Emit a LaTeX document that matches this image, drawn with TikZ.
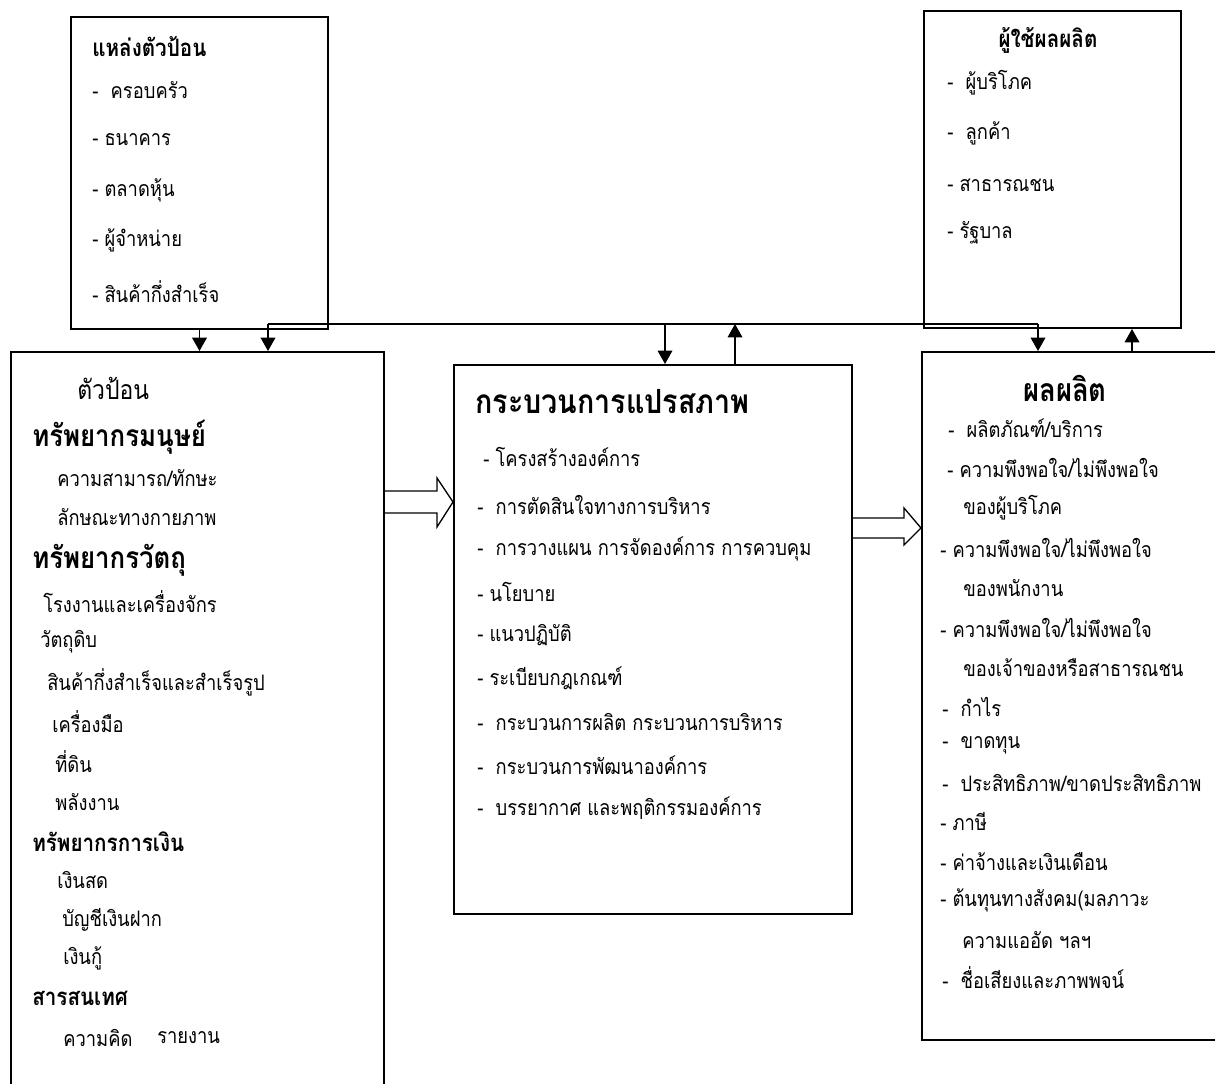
\documentclass[tikz,border=0pt]{standalone}
\usepackage{fontspec}
\newfontfamily\thaifont[Script=Thai, FakeStretch=0.86]{Loma}
\usetikzlibrary{arrows.meta, positioning, fit}

\begin{document}
\begin{tikzpicture}[
        x=0.75pt, y=-0.75pt,
        >={Triangle[length=10pt, width=11pt]},
        tbox/.style={rectangle, draw=black, line width=1.5pt, inner sep=0pt},
        titem/.style={anchor=west, inner sep=0pt, font=\thaifont\fontsize{16}{19}\selectfont},
        thead/.style={anchor=west, inner sep=0pt, font=\thaifont\bfseries\fontsize{22.5}{26}\selectfont},
        tsub/.style={anchor=west, inner sep=0pt, font=\thaifont\bfseries\fontsize{18}{21}\selectfont},
        ttitle/.style={anchor=west, inner sep=0pt, font=\thaifont\bfseries\fontsize{25}{28}\selectfont},
        arr/.style={->, draw=black, line width=1pt},
        blk/.style={draw=black, line width=1pt, line join=miter}
    ]

    \useasboundingbox (0,0) rectangle (1215,1084);
    \clip (0,0) rectangle (1215,1084);

    % Boxes
    \node[tbox, fit={(71,17) (328,329)}]    (src)  {};
    \node[tbox, fit={(924,11) (1181,328)}]  (user) {};
    \node[tbox, fit={(11,352) (384,1100)}]  (inp)  {};
    \node[tbox, fit={(454,365) (852,914)}]  (proc) {};
    \node[tbox, fit={(922,352) (1230,1040)}] (outp) {};

    % Sources of input
    \node[tsub]  (srcT) at (92,47)  {แหล่งตัวป้อน};
    \node[titem] (src1) at (92,90)  {-\ \ ครอบครัว};
    \node[titem] (src2) at (92,140) {- ธนาคาร};
    \node[titem] (src3) at (92,190) {- ตลาดหุ้น};
    \node[titem] (src4) at (92,240) {- ผู้จำหน่าย};
    \node[titem] (src5) at (92,292) {- สินค้ากึ่งสำเร็จ};

    % Users of output
    \node[tsub, anchor=center] (userT) at (1048,40) {ผู้ใช้ผลผลิต};
    \node[titem] (user1) at (947,83)  {-\ \ ผู้บริโภค};
    \node[titem] (user2) at (947,133) {-\ \ ลูกค้า};
    \node[titem] (user3) at (947,185) {- สาธารณชน};
    \node[titem] (user4) at (947,233) {- รัฐบาล};

    % Inputs
    \node[titem, font=\thaifont\fontsize{20}{23}\selectfont] (inpT) at (77,388) {ตัวป้อน};
    \node[thead] (inpA)  at (32,437)  {ทรัพยากรมนุษย์};
    \node[titem] (inpA1) at (57,478)  {ความสามารถ/ทักษะ};
    \node[titem] (inpA2) at (57,517)  {ลักษณะทางกายภาพ};
    \node[thead] (inpB)  at (32,560)  {ทรัพยากรวัตถุ};
    \node[titem] (inpB1) at (43,602)  {โรงงานและเครื่องจักร};
    \node[titem] (inpB2) at (40,642)  {วัตถุดิบ};
    \node[titem] (inpB3) at (47,682)  {สินค้ากึ่งสำเร็จและสำเร็จรูป};
    \node[titem] (inpB4) at (52,722)  {เครื่องมือ};
    \node[titem] (inpB5) at (55,762)  {ที่ดิน};
    \node[titem] (inpB6) at (55,802)  {พลังงาน};
    \node[tsub]  (inpC)  at (32,842)  {ทรัพยากรการเงิน};
    \node[titem] (inpC1) at (57,880)  {เงินสด};
    \node[titem] (inpC2) at (62,920)  {บัญชีเงินฝาก};
    \node[titem] (inpC3) at (63,958)  {เงินกู้};
    \node[tsub]  (inpD)  at (32,998)  {สารสนเทศ};
    \node[titem] (inpD1) at (63,1038) {ความคิด};
    \node[titem] (inpD2) at (157,1038) {รายงาน};

    % Transformation process
    \node[ttitle] (procT) at (475,402) {กระบวนการแปรสภาพ};
    \node[titem] (proc1) at (483,457) {- โครงสร้างองค์การ};
    \node[titem] (proc2) at (477,505) {-\ \ การตัดสินใจทางการบริหาร};
    \node[titem] (proc3) at (477,549) {-\ \ การวางแผน การจัดองค์การ การควบคุม};
    \node[titem] (proc4) at (477,592) {- นโยบาย};
    \node[titem] (proc5) at (477,635) {- แนวปฏิบัติ};
    \node[titem] (proc6) at (477,678) {- ระเบียบกฎเกณฑ์};
    \node[titem] (proc7) at (477,722) {-\ \ กระบวนการผลิต กระบวนการบริหาร};
    \node[titem] (proc8) at (477,765) {-\ \ กระบวนการพัฒนาองค์การ};
    \node[titem] (proc9) at (477,808) {-\ \ บรรยากาศ และพฤติกรรมองค์การ};

    % Outputs
    \node[thead, anchor=center, font=\thaifont\bfseries\fontsize{24}{27}\selectfont] (outpT) at (1065,388) {ผลผลิต};
    \node[titem] (outp1)  at (948,428) {-\ \ ผลิตภัณฑ์/บริการ};
    \node[titem] (outp2)  at (947,468) {- ความพึงพอใจ/ไม่พึงพอใจ};
    \node[titem] (outp2b) at (963,508) {ของผู้บริโภค};
    \node[titem] (outp3)  at (940,548) {- ความพึงพอใจ/ไม่พึงพอใจ};
    \node[titem] (outp3b) at (963,588) {ของพนักงาน};
    \node[titem] (outp4)  at (940,628) {- ความพึงพอใจ/ไม่พึงพอใจ};
    \node[titem] (outp4b) at (963,668) {ของเจ้าของหรือสาธารณชน};
    \node[titem] (outp5)  at (942,707) {-\ \ กำไร};
    \node[titem] (outp6)  at (942,745) {-\ \ ขาดทุน};
    \node[titem] (outp7)  at (942,783) {-\ \ ประสิทธิภาพ/ขาดประสิทธิภาพ};
    \node[titem] (outp8)  at (940,822) {- ภาษี};
    \node[titem] (outp9)  at (940,862) {- ค่าจ้างและเงินเดือน};
    \node[titem] (outp10) at (940,900) {- ต้นทุนทางสังคม(มลภาวะ};
    \node[titem] (outp10b) at (962,940) {ความแออัด ฯลฯ};
    \node[titem] (outp11) at (942,978) {-\ \ ชื่อเสียงและภาพพจน์};

    % Feedback bus
    \coordinate (busL) at (268,324);
    \coordinate (busR) at (1038,324);
    \coordinate (busD) at (665,324);
    \coordinate (busU) at (735,324);
    \coordinate (fb)   at (1132,340);

    \draw[arr] (src.south) -- (src.south |- inp.north);
    \draw[line width=1pt] (busL) -- (busR);
    \draw[arr] (busL) -- (busL |- inp.north);
    \draw[arr] (busR) -- (busR |- outp.north);
    \draw[arr] (busD) -- (busD |- proc.north);
    \draw[arr] (busU |- proc.north) -- (busU);
    \draw[arr] (fb |- outp.north) -- (fb |- user.south);

    % Block arrows
    \draw[blk] (inp.east |- 0,491) -- (437,491) -- (437,478) -- (proc.west |- 0,502)
               -- (437,527) -- (437,513) -- (inp.east |- 0,513);
    \draw[blk] (proc.east |- 0,518) -- (904,518) -- (904,508) -- (outp.west |- 0,528)
               -- (904,545) -- (904,538) -- (proc.east |- 0,538);

\end{tikzpicture}
\end{document}
